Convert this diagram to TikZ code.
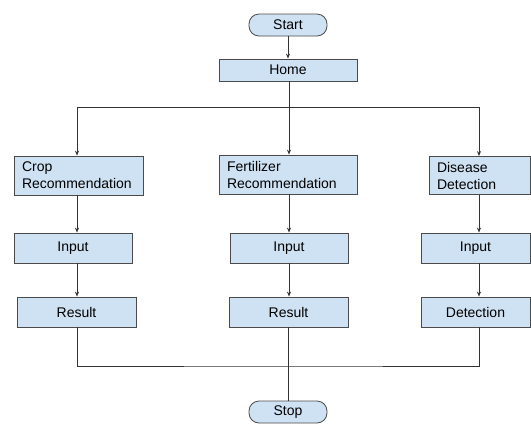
\documentclass[tikz,border=0pt]{standalone}
\usepackage{fontspec}
\setmainfont{Liberation Sans}
\usetikzlibrary{arrows.meta}
\definecolor{boxfill}{HTML}{CFE2F3}
\definecolor{boxline}{HTML}{4A4A4A}
\definecolor{conn}{HTML}{333333}
\begin{document}
\begin{tikzpicture}[x=1pt,y=-1pt,
  box/.style={draw=boxline,fill=boxfill,line width=0.8pt,inner sep=0pt,
    font=\fontsize{14}{17}\selectfont},
  cbox/.style={box,align=center},
  lbox/.style={box,align=left,inner xsep=8pt},
  term/.style={box,rounded corners=10pt,minimum width=78pt,minimum height=22pt},
  line/.style={draw=conn,line width=0.8pt},
  arr/.style={line,-{Stealth[length=5pt,width=4pt]}}]
\useasboundingbox (0,0) rectangle (531,424);

\node[term] (start) at (288,25) {Start};
\node[cbox,minimum width=138pt,minimum height=22pt] (home) at (288,70) {Home};

\node[lbox,text width=113pt,minimum height=39pt] (crop) at (78.5,175.5) {Crop\\Recommendation};
\node[lbox,text width=122pt,minimum height=39pt] (fert) at (288,174.5) {Fertilizer\\Recommendation};
\node[lbox,text width=85pt,minimum height=38pt] (dis) at (479.5,175.5) {Disease\\Detection};

\node[cbox,minimum width=118pt,minimum height=30pt] (in1) at (73,248) {Input};
\node[cbox,minimum width=118pt,minimum height=30pt] (in2) at (289,248) {Input};
\node[cbox,minimum width=109pt,minimum height=30pt] (in3) at (475.5,248) {Input};

\node[cbox,minimum width=119pt,minimum height=30pt] (res1) at (76.5,312) {Result};
\node[cbox,minimum width=119pt,minimum height=30pt] (res2) at (288.5,312) {Result};
\node[cbox,minimum width=109pt,minimum height=30pt] (det) at (475.5,312) {Detection};

\node[term] (stop) at (288,412) {Stop};

% column guide coordinates
\coordinate (c1) at (77,0);
\coordinate (c2) at (289,0);
\coordinate (c3) at (479,0);
\coordinate (tb) at (289,107);
\coordinate (bb) at (288,366);

\draw[arr] (start) -- (home);
\draw[arr] (home.south -| c2) -- (fert.north -| c2);
\draw[arr] (tb) -| (crop.north -| c1);
\draw[arr] (tb) -| (dis.north -| c3);

\draw[arr] (crop.south -| c1) -- (in1.north -| c1);
\draw[arr] (in1.south -| c1) -- (res1.north -| c1);
\draw[arr] (fert.south -| c2) -- (in2.north -| c2);
\draw[arr] (in2.south -| c2) -- (res2.north -| c2);
\draw[arr] (dis.south -| c3) -- (in3.north -| c3);
\draw[arr] (in3.south -| c3) -- (det.north -| c3);

\draw[line] (res1.south -| c1) |- (bb) -| (det.south -| c3);
\draw[line] (res2.south -| bb) -- (stop.north);
\end{tikzpicture}
\end{document}
